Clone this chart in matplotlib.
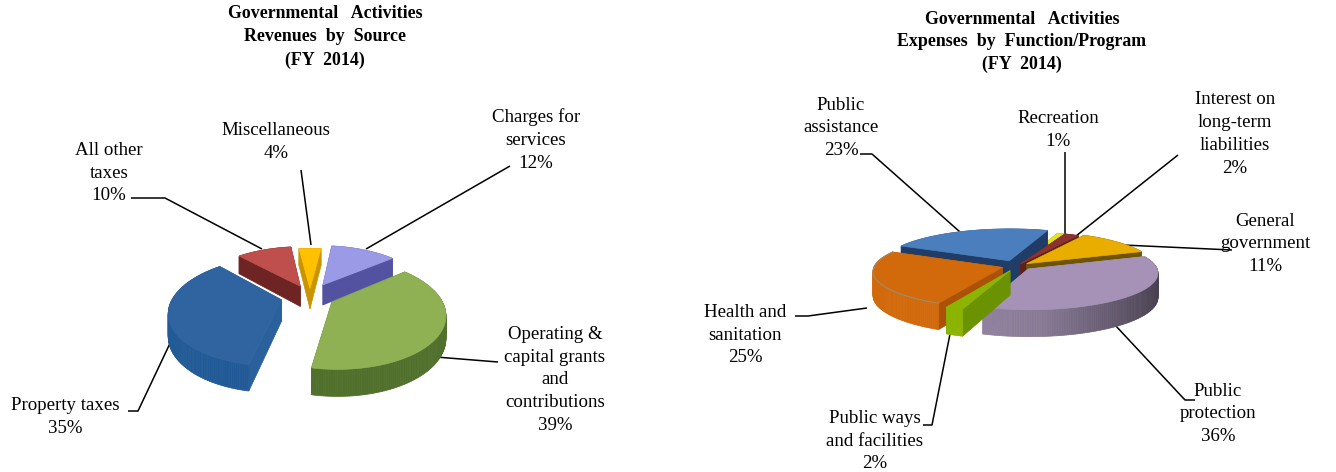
import numpy as np
import matplotlib
matplotlib.use("Agg")
import matplotlib.pyplot as plt
from matplotlib.colors import to_rgb

# values
rev_names = ["Charges for\nservices", "Operating &\ncapital grants\nand\ncontributions", "Property taxes",
             "All other\ntaxes", "Miscellaneous"]
rev_values = [12, 39, 35, 10, 4]
exp_names = ["Recreation", "Interest on\nlong-term\nliabilities", "General\ngovernment", "Public\nprotection",
             "Public ways\nand facilities", "Health and\nsanitation", "Public\nassistance"]
exp_values = [1, 2, 11, 36, 2, 25, 23]

# look of the two pies
rev_top = ["#9a9ae6", "#8fb153", "#2f64a0", "#bf4f4c", "#ffc000"]
rev_wall = ["#5c5cab", "#50702c", "#215a96", "#7a2a28", "#b08400"]
rev_cut = ["#5252a0", "#50702c", "#2a609c", "#6e2422", "#c89400"]
rev_explode = [0.26, 0.23, 0.27, 0.22, 0.15]
exp_top = ["#e4e41e", "#8c3230", "#e9ad00", "#a592b6", "#8cb400", "#d2690a", "#4a7ebd"]
exp_wall = ["#a0a010", "#5e1f1f", "#6e5400", "#a08fb0", "#8cb400", "#d2690a", "#3a6ea4"]
exp_cut = ["#a0a010", "#5e1f1f", "#6e5400", "#8c7c9c", "#6b9200", "#ac5208", "#1f3d66"]
exp_explode = [0.06, 0.06, 0.1, 0.12, 0.14, 0.12, 0.16]

fig = plt.figure(figsize=(13.36, 4.72), dpi=100)
ax = fig.add_axes([0, 0, 1, 1])
ax.set_xlim(0, 1336)
ax.set_ylim(472, 0)
ax.axis("off")
plt.rcParams['font.family'] = ['Liberation Serif', 'DejaVu Serif']


def shade(color, f):
    return tuple(min(1, c * f) for c in to_rgb(color))


def draw_pie(values, tops, walls, cuts, explode, cx, cy, rx, ry, k, depth, start, grad, rim=()):
    def project(u, v, low=False):
        w = 1 / (1 + k * v)
        x = cx + rx * u * w
        y = cy - ry * v * w
        if low:
            y = y + depth * w
        return x, y

    angles = start + np.cumsum([0] + list(values)) * 3.6
    order = np.argsort([-np.cos(np.radians((angles[i] + angles[i + 1]) / 2)) for i in range(len(values))])
    for i in order:
        a0, a1 = angles[i], angles[i + 1]
        mid = np.radians((a0 + a1) / 2)
        ou, ov = explode[i] * np.sin(mid), explode[i] * np.cos(mid)
        th = np.radians(np.linspace(a0, a1, max(3, int(a1 - a0) + 2)))
        us = ou + np.sin(th)
        vs = ov + np.cos(th)

        # side faces, back ones first
        faces = []
        for j in [0, -1]:
            faces.append((ov + np.cos(th[j]) / 2, [ou, us[j]], [ov, vs[j]], cuts[i]))
        for j in range(len(th) - 1):
            f = 1.0
            if grad[i]:
                f = np.interp(np.sin(th[j]), [-1, 0.1, 1], [1.0, 0.85, grad[i]])
            faces.append(((vs[j] + vs[j + 1]) / 2, us[j:j + 2], vs[j:j + 2], shade(walls[i], f)))
        faces.sort(key=lambda t: -t[0])
        for _, fu, fv, col in faces:
            x0, y0 = project(fu[0], fv[0])
            x1, y1 = project(fu[1], fv[1])
            x2, y2 = project(fu[1], fv[1], True)
            x3, y3 = project(fu[0], fv[0], True)
            ax.fill([x0, x1, x2, x3], [y0, y1, y2, y3], color=col, lw=0.5, zorder=2)

        xs, ys = project(np.r_[ou, us], np.r_[ov, vs])
        ax.fill(xs, ys, color=tops[i], lw=0.5, zorder=2)
        if i in rim:
            ax.plot(*project(us, vs), color="#a08a6a", lw=0.9, zorder=2)


exp_grad = [0, 0, 0, 0.45, 0, 0, 0]
rev_grad = [0, 0, 0, 0, 0]
draw_pie(rev_values, rev_top, rev_wall, rev_cut, rev_explode, 310, 296, 108, 51, 0.2, 21, 7.2, rev_grad)
draw_pie(exp_values, exp_top, exp_wall, exp_cut, exp_explode, 1017, 266, 128, 36, 0.1, 24, 19, exp_grad, rim=[5])

# titles
ax.text(325, 37, "Governmental   Activities\nRevenues  by  Source\n(FY  2014)", ha="center", va="center",
        fontsize=12.9, fontweight="bold", linespacing=1.5)
ax.text(1022, 42, "Governmental   Activities\nExpenses  by  Function/Program\n(FY  2014)", ha="center", va="center",
        fontsize=12.9, fontweight="bold", linespacing=1.38)

# labels
rev_pos = [(536, 140), (555, 380), (65, 417), (109, 173), (276, 142)]
exp_pos = [(1058, 130), (1235, 134), (1265, 244), (1218, 414), (875, 441), (745, 335), (841, 128)]
for names, vals, pos in [(rev_names, rev_values, rev_pos), (exp_names, exp_values, exp_pos)]:
    for n, v, p in zip(names, vals, pos):
        ax.text(p[0], p[1], "%s\n%d%%" % (n, v), ha="center", va="center", fontsize=13.6, linespacing=1.44)

# leader lines
leaders = [
    [(301, 170), (311, 245)],
    [(131, 198), (165, 198), (262, 249)],
    [(510, 166), (366, 249)],
    [(436, 357), (498, 362)],
    [(128, 411), (138, 411), (173, 337)],
    [(860, 154), (872, 154), (960, 232)],
    [(1065, 152), (1065, 235)],
    [(1178, 155), (1076, 236)],
    [(1123, 245), (1232, 250)],
    [(867, 308), (808, 316), (795, 316)],
    [(950, 334), (932, 425), (923, 425)],
    [(1115, 325), (1185, 400), (1195, 400)],
]
for line in leaders:
    ax.plot([p[0] for p in line], [p[1] for p in line], color="black", lw=1.1, zorder=1, solid_capstyle="butt")

fig.savefig("out.png", dpi=100)
